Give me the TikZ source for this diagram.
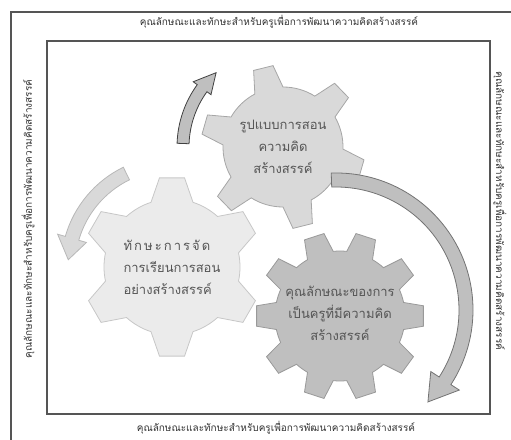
\documentclass[tikz,border=0pt]{standalone}
\usepackage{fontspec}
\newfontfamily\thaifont[Script=Thai]{Loma}
\usepackage{xcolor}
\usepackage{tikz}
\usetikzlibrary{calc}

\definecolor{frameg}{HTML}{555555}
\definecolor{txtg}{HTML}{555555}

% gear: style, center, teeth, first tooth angle, body radius, tip radius, tip half angle, base half angle
\newcommand{\drawgear}[8]{%
  \pgfmathsetmacro{\gstep}{360/#3}
  \draw[#1,shift={(#2)}] ({#4-#8}:#5pt)
    \foreach \k in {1,...,#3} {
      -- ({#4+(\k-1)*\gstep-#7}:#6pt) -- ({#4+(\k-1)*\gstep+#7}:#6pt) -- ({#4+(\k-1)*\gstep+#8}:#5pt)
      arc[start angle={#4+(\k-1)*\gstep+#8}, end angle={#4+\k*\gstep-#8}, radius=#5pt]
    } -- cycle;
}
% bent arrow: style, center, radius, start angle, head base angle, tip angle, half width, head half width
\newcommand{\bentarrow}[8]{%
  \draw[#1] ($(#2)+(#4:#3pt+#7pt)$) arc[start angle=#4, end angle=#5, radius=#3pt+#7pt]
    -- ($(#2)+(#5:#3pt+#8pt)$) -- ($(#2)+(#6:#3pt)$) -- ($(#2)+(#5:#3pt-#8pt)$)
    -- ($(#2)+(#5:#3pt-#7pt)$) arc[start angle=#5, end angle=#4, radius=#3pt-#7pt] -- cycle;
}

\begin{document}
\begin{tikzpicture}[x=1pt, y=1pt,
    frame/.style={draw=frameg, line width=1.6pt},
    side/.style={font=\thaifont\fontsize{10}{12}\selectfont, text=black!80},
    geartext/.style={font=\thaifont\fontsize{13}{22}\selectfont, text=txtg},
    gearA/.style={fill=black!15, draw=black!35, line width=0.8pt},
    gearB/.style={fill=black!8, draw=black!22, line width=0.8pt},
    gearC/.style={fill=black!25, draw=black!40, line width=0.8pt},
    arrA/.style={fill=black!25, draw=black!75, line width=0.8pt},
    arrB/.style={fill=black!15, draw=black!28, line width=0.8pt},
    arrC/.style={fill=black!25, draw=black!55, line width=0.8pt}
]
\useasboundingbox (0,0) rectangle (511,439);
% frames
\draw[frame, line width=1.2pt] (11,-2) -- (11,427) -- (513,427);
\draw[frame] (47,25) rectangle (490,398);
\node[side] (toplbl) at (279,417) {คุณลักษณะและทักษะสำหรับครูเพื่อการพัฒนาความคิดสร้างสรรค์};
\node[side] (botlbl) at (276,11) {คุณลักษณะและทักษะสำหรับครูเพื่อการพัฒนาความคิดสร้างสรรค์};
\node[side, rotate=90] (leftlbl) at (28,220) {คุณลักษณะและทักษะสำหรับครูเพื่อการพัฒนาความคิดสร้างสรรค์};
\node[side, rotate=-90] (rightlbl) at (500,228) {คุณลักษณะและทักษะสำหรับครูเพื่อการพัฒนาความคิดสร้างสรรค์};
% gears
\coordinate (cA) at (283,292);\coordinate (cB) at (172,172);\coordinate (cC) at (340,123);
\drawgear{gearA}{cA}{6}{104}{60}{82}{7}{14}
\drawgear{gearB}{cB}{6}{90}{68}{90}{8}{18}
\drawgear{gearC}{cC}{10}{0}{65}{84}{7}{12}
% arrows
\bentarrow{arrA}{cA}{100}{178}{144}{132}{6}{11}
\bentarrow{arrB}{cB}{104}{116}{164}{176}{7}{15}
\bentarrow{arrC}{336,129}{130}{92}{-33}{-45}{7}{17}
% labels
\node[geartext, align=center] (txtA) at (cA) {รูปแบบการสอน\\ความคิด\\สร้างสรรค์};
\node[geartext, align=left] (txtB) at (cB) {{\addfontfeatures{LetterSpace=16}ทักษะการจัด}\\การเรียนการสอน\\อย่างสร้างสรรค์};
\node[geartext, align=center] (txtC) at (340,126) {คุณลักษณะของการ\\เป็นครูที่มีความคิด\\สร้างสรรค์};
\end{tikzpicture}
\end{document}
